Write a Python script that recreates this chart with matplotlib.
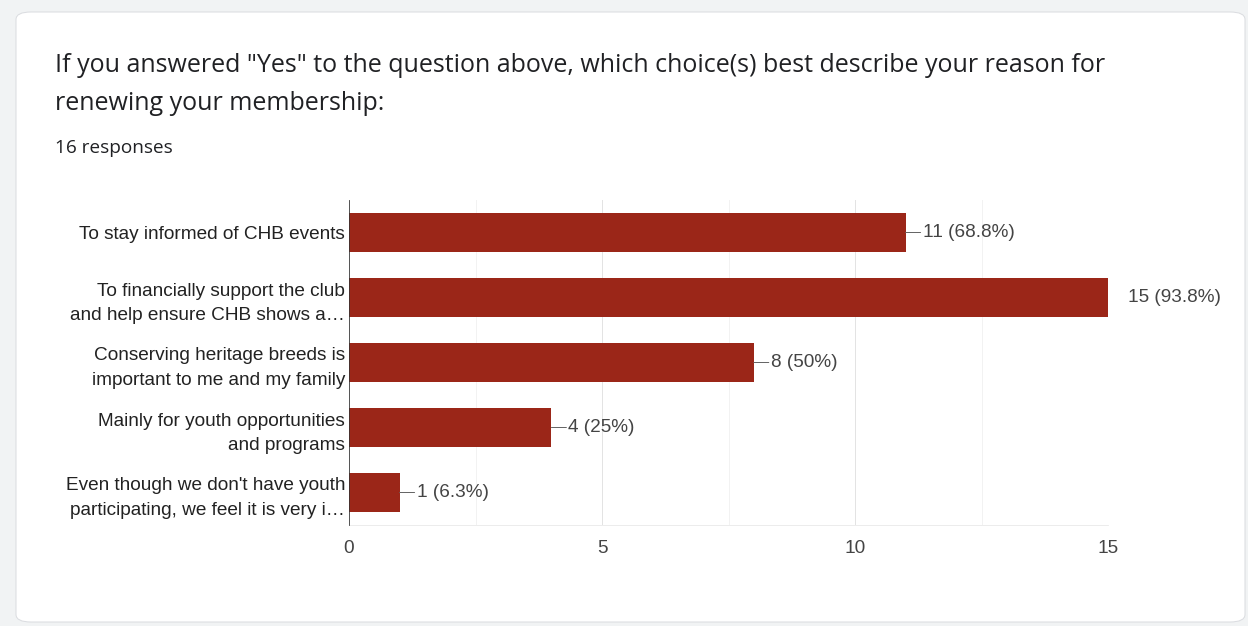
import matplotlib.pyplot as plt
from matplotlib.patches import FancyBboxPatch

# data
reasons = [
    "To stay informed of CHB events",
    "To financially support the club\nand help ensure CHB shows a\u2026",
    "Conserving heritage breeds is\nimportant to me and my family",
    "Mainly for youth opportunities\nand programs",
    "Even though we don't have youth\nparticipating, we feel it is very i\u2026",
]
counts = [11, 15, 8, 4, 1]
percents = ["68.8%", "93.8%", "50%", "25%", "6.3%"]
x_ticks = [0, 5, 10, 15]

title_lines = ['If you answered "Yes" to the question above, which choice(s) best describe your reason for',
               'renewing your membership:']
subtitle = "16 responses"

W, H = 1248, 626
bar_color = "#9b2618"

fig = plt.figure(figsize=(W / 72, H / 72), dpi=72)
fig.patch.set_facecolor("#f1f3f4")

# white card
card = FancyBboxPatch((16 / W, 4 / H), 1229 / W, 610 / H,
                      boxstyle="round,pad=0,rounding_size=0.012",
                      transform=fig.transFigure, facecolor="white",
                      edgecolor="#dadce0", linewidth=1, zorder=-10)
fig.patches.append(card)

fig.text(55 / W, 1 - 65 / H, title_lines[0], fontsize=25, family="Open Sans",
         color="#202124", va="center", ha="left")
fig.text(55 / W, 1 - 103 / H, title_lines[1], fontsize=25, family="Open Sans",
         color="#202124", va="center", ha="left")
fig.text(55 / W, 1 - 148 / H, subtitle, fontsize=19, family="Open Sans",
         color="#202124", va="center", ha="left")

ax = fig.add_axes([349 / W, 1 - 525 / H, (1108 - 349) / W, 325 / H])
ax.set_facecolor("none")
ax.set_zorder(2)

ypos = list(range(len(reasons)))
ax.barh(ypos, counts, height=0.615, color=bar_color, zorder=3)
ax.set_ylim(len(reasons) - 0.5, -0.5)
ax.set_xlim(0, 15)

ax.set_yticks(ypos)
ax.set_yticklabels(reasons, fontsize=19, family="Liberation Sans",
                   color="#222222", linespacing=1.55)
ax.set_xticks(x_ticks)
ax.set_xticklabels([str(t) for t in x_ticks], fontsize=19,
                   family="Liberation Sans", color="#444444")
ax.set_xticks([2.5, 7.5, 12.5], minor=True)
ax.tick_params(axis="both", which="both", length=0)
ax.tick_params(axis="y", pad=4)
ax.tick_params(axis="x", pad=15)

ax.grid(axis="x", which="major", color="#e3e3e3", linewidth=1, zorder=0)
ax.grid(axis="x", which="minor", color="#f2f2f2", linewidth=1, zorder=0)

for s in ["top", "right"]:
    ax.spines[s].set_visible(False)
ax.spines["bottom"].set_color("#e8e8e8")
ax.spines["left"].set_color("#333333")
ax.spines["left"].set_zorder(4)

for y, c, p in zip(ypos, counts, percents):
    label = f"{c} ({p})"
    if c >= max(x_ticks):
        ax.annotate(label, xy=(c, y), xytext=(20, 0), textcoords="offset points",
                    va="center", ha="left", fontsize=19,
                    family="Liberation Sans", color="#444444", annotation_clip=False)
    else:
        ax.annotate(label, xy=(c, y), xytext=(17, 0), textcoords="offset points",
                    va="center", ha="left", fontsize=19,
                    family="Liberation Sans", color="#444444",
                    arrowprops=dict(arrowstyle="-", color="#666666", lw=1,
                                    shrinkA=0, shrinkB=0))

fig.savefig("out.png", dpi=72, facecolor=fig.get_facecolor())
